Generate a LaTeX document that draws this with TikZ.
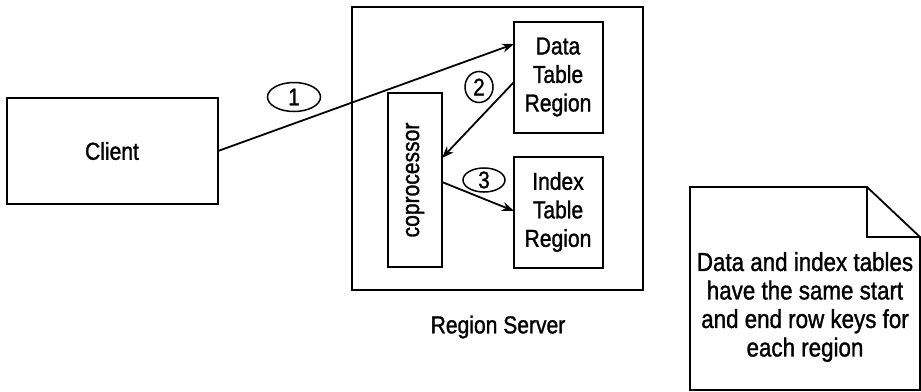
\documentclass[tikz,border=0pt]{standalone}
\usepackage{fontspec}
\setmainfont{Liberation Sans}[FakeStretch=0.86,FakeBold=1.2]
\usetikzlibrary{arrows.meta,shapes.geometric}
\begin{document}
\begin{tikzpicture}[x=1pt,y=-1pt,
  line width=1.8pt,
  txt/.style={font=\fontsize{24.5}{28.5}\selectfont, align=center, inner sep=0pt},
  notetxt/.style={font=\fontsize{26}{28.5}\selectfont, align=center, inner sep=0pt},
  num/.style={draw, ellipse, line width=1.5pt, inner sep=0pt, font=\fontsize{24}{26}\selectfont},
  arr/.style={-{Stealth[length=12pt,width=9pt]}, line width=1.8pt}]
\useasboundingbox (0,0) rectangle (921,391);
% boxes
\draw (7,98) rectangle (218,204);
\node[txt] (client) at (112,151) {Client};
\coordinate (clientR) at (218,151);
\draw (352,7) rectangle (643,290);
\node[txt] (rslabel) at (498,327) {Region Server};
\draw (388,93) rectangle (442,267);
\node[txt, rotate=90] (cop) at (415,180) {coprocessor};
\draw (514,22) rectangle (603,133);
\node[txt] (data) at (558,77) {Data\\Table\\Region};
\draw (514,157) rectangle (603,268);
\node[txt] (index) at (558,212) {Index\\Table\\Region};
% anchors
\coordinate (d1) at (514,44);
\coordinate (d2) at (514,82);
\coordinate (c2) at (442,158);
\coordinate (c3) at (442,182);
\coordinate (i3) at (514,211);
\draw[arr] (clientR) -- (d1);
\draw[arr] (d2) -- (c2);
\draw[arr] (c3) -- (i3);
% number ellipses
\node[num, minimum width=53pt, minimum height=29pt] (n1) at (294,97) {1};
\node[num, minimum width=28pt, minimum height=31pt] (n2) at (479,87) {2};
\node[num, minimum width=42pt, minimum height=22pt] (n3) at (484,180) {3};
% note
\draw[line join=miter] (690,187) -- (867,187) -- (920,237) -- (920,390) -- (690,390) -- cycle;
\draw (867,187) -- (867,237) -- (920,237);
\node[notetxt] (note) at (805,307) {Data and index tables\\have the same start\\and end row keys for\\each region};
\end{tikzpicture}
\end{document}
